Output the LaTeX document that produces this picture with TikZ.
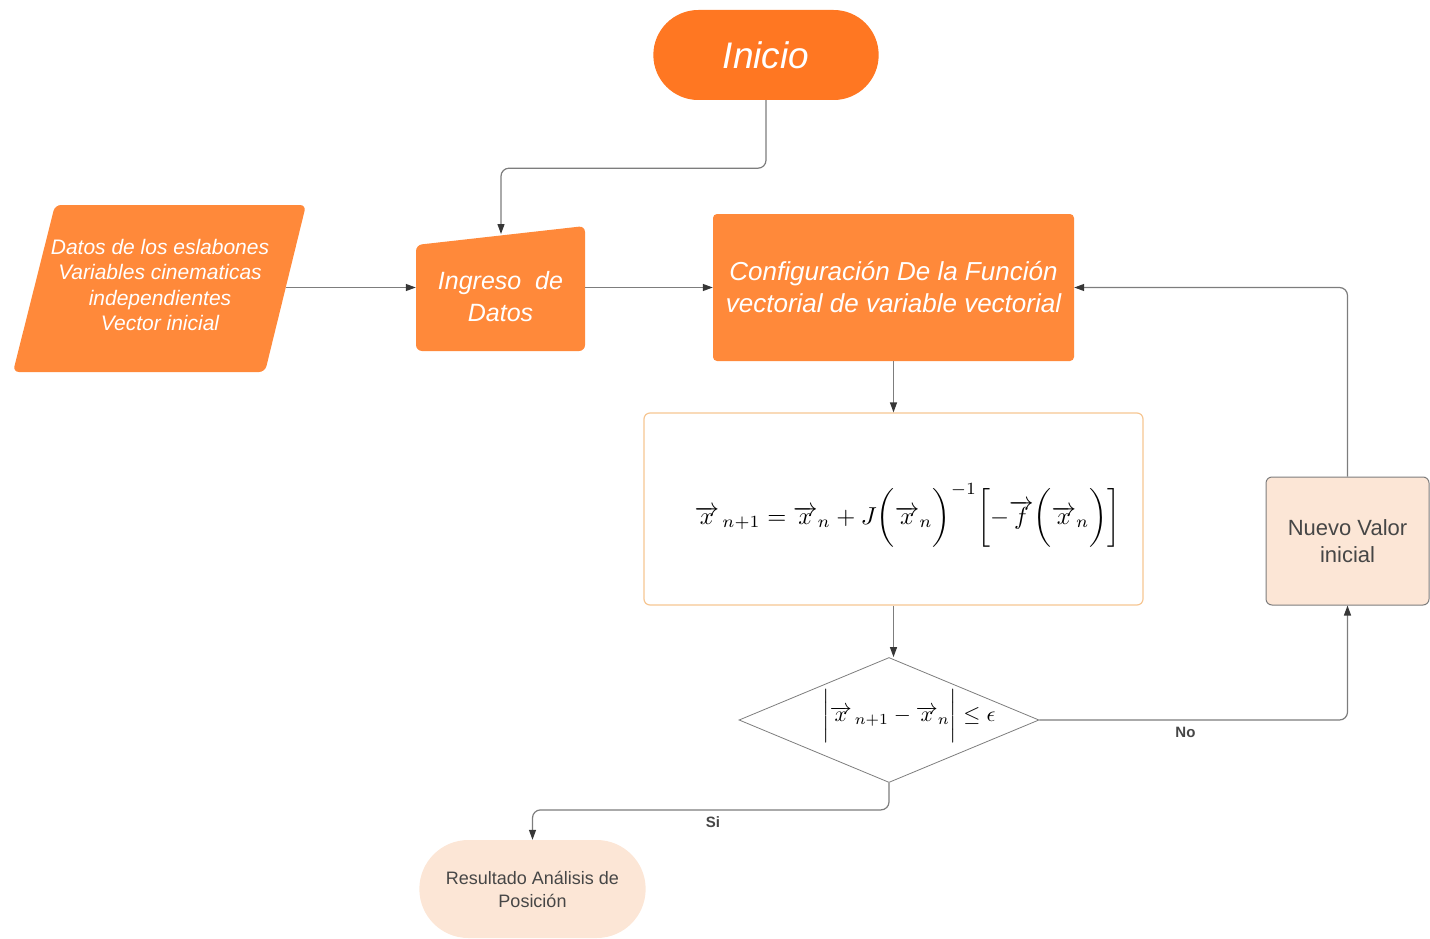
\documentclass[tikz,border=0pt]{standalone}
\usepackage{fontspec}
\setmainfont{Liberation Sans}
\usetikzlibrary{arrows.meta,shapes.geometric,shapes.misc}

\definecolor{inicioc}{RGB}{255,119,34}
\definecolor{cajac}{RGB}{255,137,58}
\definecolor{durazno}{RGB}{252,230,214}
\definecolor{bordec}{RGB}{246,198,146}
\definecolor{lineac}{RGB}{125,125,125}
\definecolor{puntac}{RGB}{55,55,55}
\definecolor{textoc}{RGB}{70,70,70}

\newcommand{\vx}{\overrightarrow{x}}

\tikzset{
  conn/.style={draw=lineac,line width=1.2pt,rounded corners=8,
    -{Triangle[length=10pt,width=7pt,color=puntac]}},
  blanco/.style={text=white,font=\itshape\fontsize{25}{32}\selectfont,align=center},
  etiq/.style={text=textoc,font=\bfseries\fontsize{15}{18}\selectfont,below=3pt}
}

\begin{document}
\begin{tikzpicture}[x=1pt,y=-1pt]
\useasboundingbox (0,0) rectangle (1430,939);

% inicio
\node (ini) [rounded rectangle,fill=inicioc,minimum width=232,minimum height=90,
  blanco,font=\itshape\fontsize{37}{40}\selectfont] at (766,55) {Inicio};

% datos de entrada
\fill[cajac,rounded corners=6] (55,205) -- (306,205) -- (265,372) -- (13,372) -- cycle;
\node (dat) [blanco,font=\itshape\fontsize{21}{25.5}\selectfont,minimum width=252]
  at (160,285) {Datos de los eslabones\\Variables cinematicas\\independientes\\Vector inicial};

% ingreso manual
\fill[cajac,rounded corners=6] (416,245) -- (585,226) -- (585,351) -- (416,351) -- cycle;
\node (ing) [blanco,minimum width=169] at (500.5,297) {Ingreso~ de\\Datos};
\coordinate (ingtop) at (501,234);

% configuracion
\node (cfg) [fill=cajac,rounded corners=4,minimum width=361,minimum height=147,blanco,
  font=\itshape\fontsize{26}{32}\selectfont]
  at (893.5,287.5) {Configuración De la Función\\vectorial de variable vectorial};

% formula
\node (frm) [draw=bordec,line width=1.2pt,rounded corners=6,minimum width=499,minimum height=192,
  inner sep=0pt,font=\normalsize] at (893.5,509)
  {\makebox[0pt]{\hspace*{28pt}\raisebox{-15pt}[0pt][0pt]{\scalebox{2.45}{$\vx_{\,n+1}=\vx_n+J\biggl(\vx_n\biggr)^{-1}\biggl[-\overrightarrow{f}\biggl(\vx_n\biggr)\biggr]$}}}};

% decision
\node (dec) [diamond,draw=lineac,line width=0.8pt,inner sep=0pt,
  minimum width=300,minimum height=125,font=\normalsize] at (889,720)
  {\makebox[0pt]{\hspace*{40pt}\raisebox{-1.5pt}[0pt][0pt]{\scalebox{2.2}{$\biggl|\vx_{\,n+1}-\vx_n\biggr|\leq\epsilon$}}}};

% nuevo valor
\node (nue) [fill=durazno,draw=lineac,line width=1pt,rounded corners=6,minimum width=163,
  minimum height=128,text=textoc,align=center,font=\fontsize{22}{27}\selectfont]
  at (1347.5,541) {Nuevo Valor\\inicial};

% resultado
\node (res) [rounded rectangle,fill=durazno,minimum width=233,minimum height=98,
  text=textoc,align=center,font=\fontsize{18}{23}\selectfont] at (532.5,889)
  {Resultado Análisis de\\Posición};

\draw[conn] (ini.south) -- ++(0,68) -| (ingtop);
\draw[conn] (dat.east |- cfg.west) -- (ing.west |- cfg.west);
\draw[conn] (ing.east |- cfg.west) -- (cfg.west);
\draw[conn] (cfg.south) -- (frm.north);
\draw[conn] (frm.south) -- (frm.south |- dec.north);
\draw[conn] (dec.south) -- ++(0,27) -| node[pos=0.247,etiq]{Si} (res.north);
\draw[conn] (dec.east) -| node[pos=0.237,etiq]{No} (nue.south);
\draw[conn] (nue.north) |- (cfg.east);
\end{tikzpicture}
\end{document}
